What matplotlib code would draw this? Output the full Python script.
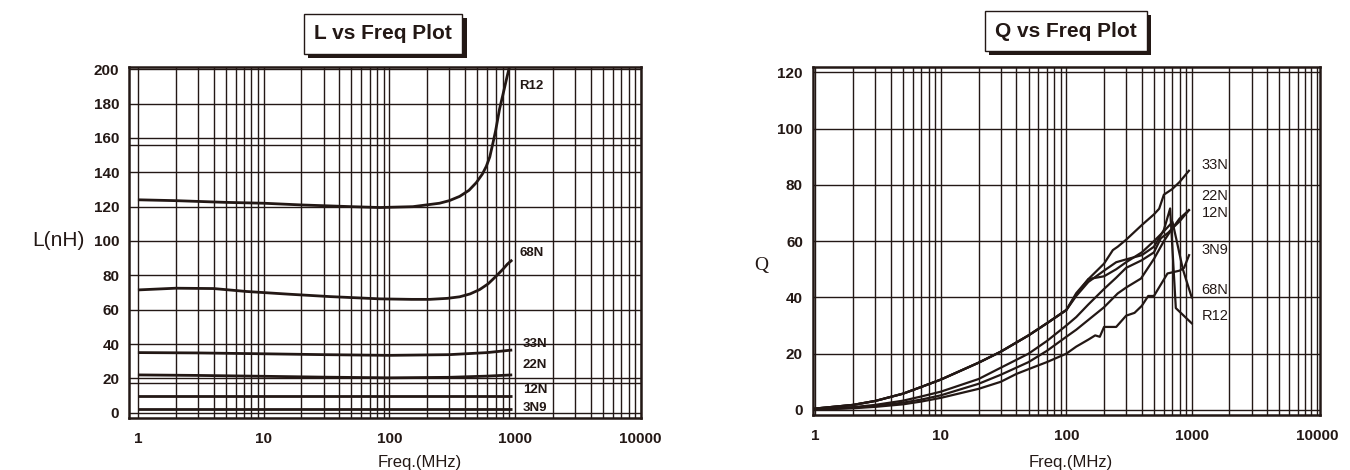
import matplotlib
matplotlib.use('Agg')
import matplotlib.pyplot as plt
import matplotlib.patheffects as pe
from matplotlib.ticker import FixedLocator, FixedFormatter, NullFormatter

ink = '#231815'
plt.rcParams['font.family'] = ['Liberation Sans', 'DejaVu Sans']

# --- L vs Freq data ---
l_names = ['R12', '68N', '33N', '22N', '12N', '3N9']
f_r12 = [1, 2, 5, 10, 20, 50, 84, 154, 251, 300, 363, 430, 492, 550, 591, 630, 667, 700, 754, 800, 860, 900]
l_r12 = [124, 123.5, 122.5, 122, 121, 120, 119.5, 120, 122, 123.5, 126, 129.5, 134, 139, 143.5, 149, 157, 164, 177, 185, 195, 201]
f_68n = [1, 2, 4, 7.3, 16, 34, 84, 150, 209, 290, 363, 440, 523, 610, 707, 800, 869, 950]
l_68n = [71.5, 72.5, 72.3, 70.6, 69, 67.6, 66.3, 66, 66, 66.6, 67.5, 69.2, 71.7, 75, 79.5, 83.5, 86.5, 89]
f_flat = [1, 3, 10, 30, 100, 300, 600, 950]
l_33n = [35, 34.8, 34.3, 33.8, 33.4, 33.8, 35, 36.5]
l_22n = [22, 21.7, 21.2, 20.7, 20.3, 20.6, 21.3, 22]
l_12n = [10, 10, 10, 10, 10, 10, 10, 10]
l_3n9 = [2, 2, 2, 2, 2, 2, 2, 2]
l_label_y = [190, 93, 40, 27.5, 13.5, 3]

# --- Q vs Freq data ---
q_names = ['33N', '22N', '12N', '3N9', '68N', 'R12']
f_q33 = [1, 2, 3, 5, 7, 10, 20, 30, 50, 70, 100, 120, 150, 200, 235, 257, 300, 400, 500, 550, 600, 700, 800, 950]
q_q33 = [0.5, 1.8, 3.2, 5.8, 8.2, 10.8, 16.8, 20.7, 26.5, 30.8, 35.5, 41, 46.5, 52, 56.8, 58, 60.5, 65.7, 69.5, 71.5, 76.5, 78.5, 81, 85]
f_q22 = [1, 2, 3, 5, 7, 10, 20, 30, 50, 70, 100, 120, 150, 200, 250, 300, 400, 500, 567, 650, 700, 800, 950]
q_q22 = [0.3, 1.0, 1.8, 3.3, 4.8, 6.5, 11, 15, 20, 24.5, 30, 33, 37.5, 43, 47, 50.5, 53.2, 56, 61, 63, 64.5, 68, 71]
f_q12 = [1, 2, 3, 5, 7, 10, 20, 30, 50, 70, 100, 120, 150, 200, 257, 300, 394, 502, 600, 700, 800, 950]
q_q12 = [0.2, 0.8, 1.4, 2.6, 3.7, 5.2, 9.3, 12.5, 17, 21, 26, 28.5, 32, 36.5, 41.4, 43.5, 46.7, 53.8, 60, 64.5, 67, 71]
f_q3n9 = [1, 2, 3, 5, 7, 10, 20, 30, 40, 50, 70, 100, 120, 150, 170, 185, 200, 250, 300, 350, 400, 450, 500, 641, 800, 869, 953]
q_q3n9 = [0.1, 0.6, 1.1, 2.0, 3.0, 4.3, 7.5, 10, 12.8, 14.5, 17, 20, 22.5, 25, 26.5, 26, 29.5, 29.5, 33.5, 34.5, 37, 40.5, 40.5, 48.5, 49.5, 50.5, 55]
f_q68 = [1, 2, 3, 5, 7, 10, 20, 30, 50, 70, 100, 120, 150, 200, 250, 300, 400, 500, 600, 703, 760, 850, 1000]
q_q68 = [0.5, 1.8, 3.2, 5.8, 8.2, 10.8, 16.8, 20.7, 26.5, 30.8, 35.5, 41.5, 46.5, 47.5, 50, 52.5, 56, 60, 63.5, 66.8, 60, 50, 40]
f_qr12 = [1, 2, 3, 5, 7, 10, 20, 30, 50, 70, 100, 120, 150, 200, 250, 300, 400, 500, 600, 673, 747, 1000]
q_qr12 = [0.5, 1.8, 3.2, 5.8, 8.2, 10.8, 16.8, 20.7, 26.5, 30.8, 35.5, 40.5, 45.5, 49.5, 52.5, 53.5, 55, 58, 64, 71.6, 36.2, 30.8]
q_label_y = [87, 76, 70, 57, 42.6, 33.4]

x_ticks = [1, 10, 100, 1000, 10000]
x_labels = ['1', '10', '100', '1000', '10000']
x_minor = [m * d for d in [1, 10, 100, 1000] for m in range(2, 10)]

fig = plt.figure(figsize=(13.5, 4.7), dpi=100)
ax1 = fig.add_axes([0.0956, 0.111, 0.379, 0.747])
ax2 = fig.add_axes([0.602, 0.117, 0.3756, 0.740])


def style_axes(ax, yticks):
    ax.set_xscale('log')
    ax.xaxis.set_major_locator(FixedLocator(x_ticks))
    ax.xaxis.set_major_formatter(FixedFormatter(x_labels))
    ax.xaxis.set_minor_locator(FixedLocator(x_minor))
    ax.xaxis.set_minor_formatter(NullFormatter())
    ax.set_yticks(yticks)
    ax.grid(which='both', axis='x', color=ink, lw=1.0)
    ax.grid(which='major', axis='y', color=ink, lw=1.0)
    ax.tick_params(which='both', length=0, colors=ink, labelsize=11)
    ax.tick_params(axis='x', pad=10)
    ax.tick_params(axis='y', pad=7)
    for s in ax.spines.values():
        s.set_color(ink)
        s.set_linewidth(1.8)
    ax.set_axisbelow(True)


# L plot
style_axes(ax1, range(0, 201, 20))
ax1.set_xlim(0.85, 10000)
ax1.set_ylim(-3, 201.5)
for yy in [156, 17.5]:
    ax1.axhline(yy, color=ink, lw=1.0, zorder=0.5)
l_data = [(f_r12, l_r12), (f_68n, l_68n), (f_flat, l_33n), (f_flat, l_22n), (f_flat, l_12n), (f_flat, l_3n9)]
for (f, l), name, ly in zip(l_data, l_names, l_label_y):
    ax1.plot(f, l, color=ink, lw=2.0, solid_capstyle='butt')
    lx = 1080 if name in ('R12', '68N') else 1150
    ax1.text(lx, ly, name, fontsize=9.5, fontweight='bold', color=ink, va='center', ha='left')

# Q plot
style_axes(ax2, range(0, 121, 20))
ax2.set_xlim(0.95, 10500)
ax2.set_ylim(-1.8, 121.8)
q_data = [(f_q33, q_q33), (f_q22, q_q22), (f_q12, q_q12), (f_q3n9, q_q3n9), (f_q68, q_q68), (f_qr12, q_qr12)]
for (f, q), name, qy in zip(q_data, q_names, q_label_y):
    ax2.plot(f, q, color=ink, lw=1.6)
    ax2.text(1200, qy, name, fontsize=10.5, color=ink, va='center', ha='left')

for ax in (ax1, ax2):
    for lab in ax.get_xticklabels() + ax.get_yticklabels():
        lab.set_fontweight('bold')

# axis labels
fig.text(0.043, 0.489, 'L(nH)', fontsize=15, color=ink, ha='center', va='center')
fig.text(0.564, 0.436, 'Q', fontsize=14, color=ink, ha='center', va='center',
         family=['Liberation Serif', 'DejaVu Serif'])
fig.text(0.311, 0.017, 'Freq.(MHz)', fontsize=12, color=ink, ha='center', va='center')
fig.text(0.793, 0.017, 'Freq.(MHz)', fontsize=12, color=ink, ha='center', va='center')

# boxed titles with drop shadow
for tx, ty, title in [(0.2837, 0.928, 'L vs Freq Plot'), (0.7896, 0.934, 'Q vs Freq Plot')]:
    t = fig.text(tx, ty, title, fontsize=15, fontweight='bold', color=ink, ha='center', va='center',
                 bbox=dict(boxstyle='square,pad=0.5', fc='white', ec=ink, lw=1.0))
    t.get_bbox_patch().set_path_effects([
        pe.SimplePatchShadow(offset=(3, -3), shadow_rgbFace=ink, alpha=1.0),
        pe.Normal()])

fig.savefig('out.png', dpi=100)
